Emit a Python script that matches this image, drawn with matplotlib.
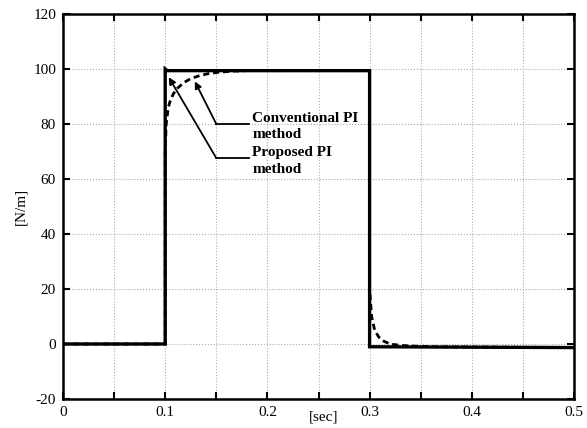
import matplotlib
matplotlib.use("Agg")
import matplotlib.pyplot as plt
import numpy as np

# ---------------------------------------------------------------------------
# DATA — force response [N/m] vs time [sec]
# ---------------------------------------------------------------------------
t_proposed = [0.0, 0.1, 0.1, 0.102, 0.3, 0.3, 0.5]
f_proposed = [0.0, 0.0, 100.0, 99.4, 99.4, -1.0, -1.3]

t_conventional = [0.0, 0.1, 0.1, 0.101, 0.103, 0.105, 0.108, 0.112, 0.118,
                  0.125, 0.133, 0.142, 0.152, 0.165, 0.18, 0.3, 0.3, 0.302,
                  0.305, 0.309, 0.314, 0.32, 0.33, 0.345, 0.36, 0.5]
f_conventional = [0.0, 0.0, 70.0, 80.0, 86.0, 88.5, 91.0, 93.0, 95.0,
                  96.5, 97.5, 98.3, 98.8, 99.2, 99.4, 99.4, 20.0, 10.0,
                  5.0, 2.5, 1.0, 0.0, -0.5, -0.8, -1.0, -1.3]

x_ticks = [0, 0.1, 0.2, 0.3, 0.4, 0.5]
x_tick_labels = ["0", "0.1", "0.2", "0.3", "0.4", "0.5"]
y_ticks = [-20, 0, 20, 40, 60, 80, 100, 120]

labels = ["Conventional PI\nmethod", "Proposed PI\nmethod"]

plt.rcParams["font.family"] = ["Liberation Serif", "DejaVu Serif"]
plt.rcParams["axes.unicode_minus"] = False

fig = plt.figure(figsize=(5.87, 4.28), dpi=100)
ax = fig.add_axes([63 / 587, 1 - 399 / 428, 511 / 587, 385 / 428])

ax.plot(t_proposed, f_proposed, color="black", linewidth=2.4,
        solid_joinstyle="miter", zorder=4)
ax.plot(t_conventional, f_conventional, color="black", linewidth=2.0,
        linestyle=(0, (2.2, 1.4)), zorder=3)

# ---- Annotations: label, elbow point, arrow tip ----
ann_text_x = 0.185
ann_elbow_x = 0.15
ann_line_end = 0.182
for text, elbow_y, tip in [
        (labels[0], 80.0, (0.129, 95.5)),
        (labels[1], 67.6, (0.1035, 97.0))]:
    ax.plot([ann_elbow_x, ann_line_end], [elbow_y, elbow_y],
            color="black", linewidth=1.3, zorder=5)
    ax.annotate("", xy=tip, xytext=(ann_elbow_x, elbow_y),
                arrowprops=dict(arrowstyle="-|>", color="black", lw=1.3,
                                mutation_scale=10, shrinkA=0, shrinkB=0),
                zorder=5)
    ax.text(ann_text_x, elbow_y - 1.0, text, fontsize=11, fontweight="bold",
            ha="left", va="center", linespacing=1.35, zorder=5)

ax.set_xlim(0, 0.5)
ax.set_ylim(-20, 120)
ax.set_xticks(x_ticks)
ax.set_xticklabels(x_tick_labels)
ax.set_xticks(np.arange(0.05, 0.5, 0.1), minor=True)
ax.set_yticks(y_ticks)

ax.grid(True, which="both", axis="x", color="#aaaaaa", linestyle=":",
        linewidth=0.8)
ax.grid(True, which="major", axis="y", color="#aaaaaa", linestyle=":",
        linewidth=0.8)

ax.tick_params(which="both", direction="in", top=True, right=True,
               labelsize=11, width=1.5)
ax.tick_params(which="major", length=5, pad=5)
ax.tick_params(which="minor", length=5)
for side in ax.spines.values():
    side.set_linewidth(1.8)

ax.set_xlabel("[sec]", fontsize=11)
ax.xaxis.set_label_coords(0.51, -0.03)
ax.set_ylabel("[N/m]", fontsize=11, labelpad=4)

fig.savefig("out.png", dpi=100)
